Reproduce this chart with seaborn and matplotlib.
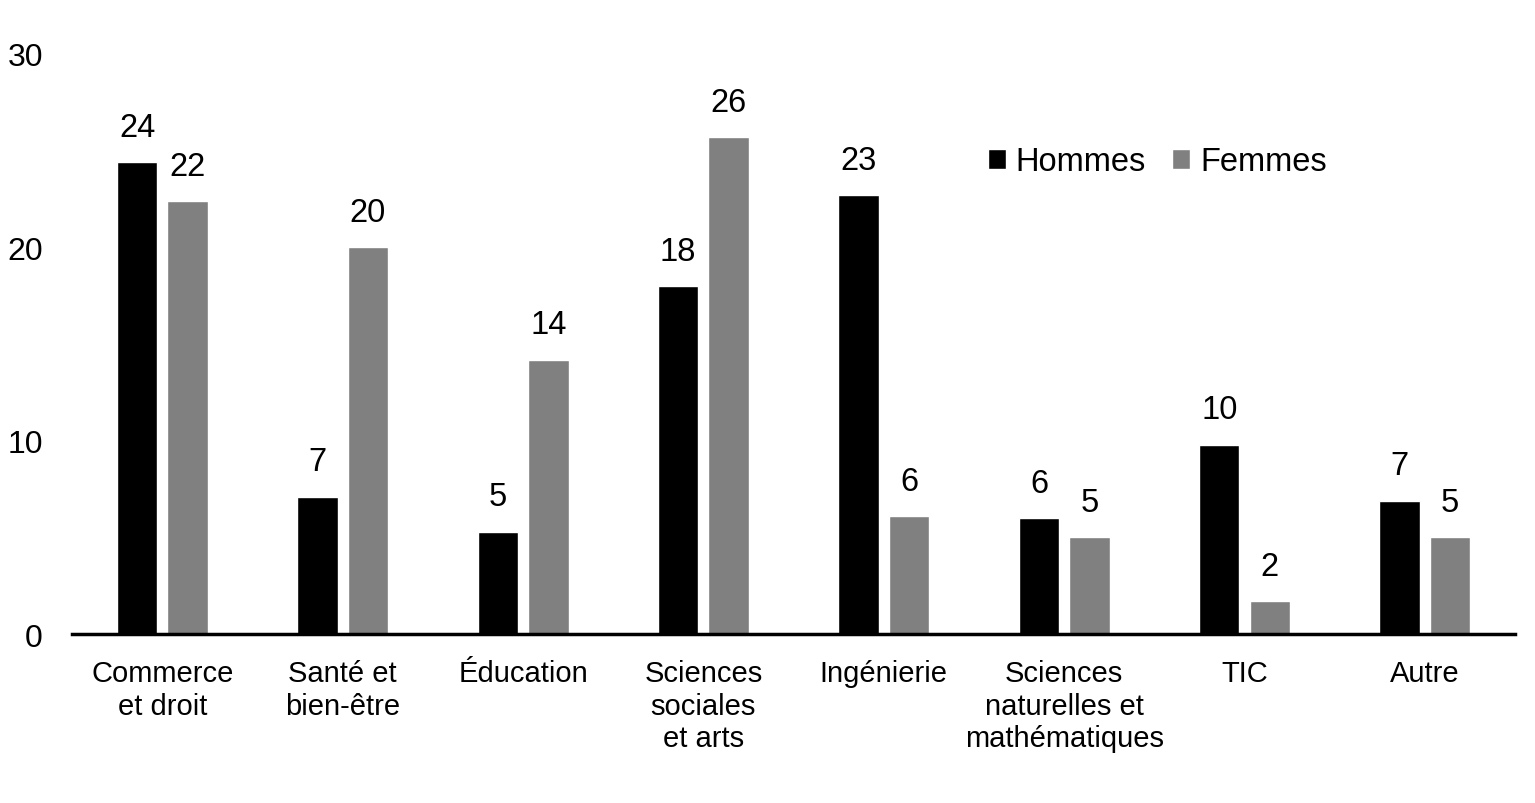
import pandas as pd
import matplotlib.pyplot as plt
import seaborn as sns

# data
categories = ['Commerce\net droit', 'Santé et\nbien-être', 'Éducation',
              'Sciences\nsociales\net arts', 'Ingénierie',
              'Sciences\nnaturelles et\nmathématiques', 'TIC', 'Autre']
hommes = [24.4, 7.1, 5.3, 18.0, 22.7, 6.0, 9.8, 6.9]
femmes = [22.4, 20.0, 14.2, 25.7, 6.1, 5.0, 1.7, 5.0]
series = ['Hommes', 'Femmes']
colors = ['#000000', '#808080']

df = pd.DataFrame({
    'cat': categories * 2,
    'val': hommes + femmes,
    'sexe': [series[0]] * len(categories) + [series[1]] * len(categories),
})

sns.set_style('white')
plt.rcParams['font.family'] = ['Liberation Sans', 'DejaVu Sans']
plt.rcParams['text.color'] = 'black'
plt.rcParams['xtick.color'] = 'black'
plt.rcParams['ytick.color'] = 'black'

fig = plt.figure(figsize=(15.35, 8.04), dpi=100)
ax = fig.add_axes([0.047, 0.21, 0.94, 0.7216])

sns.barplot(data=df, x='cat', y='val', hue='sexe', palette=colors,
            width=0.56, gap=0.2, saturation=1, ax=ax, order=categories,
            hue_order=series)

for cont in ax.containers:
    ax.bar_label(cont, labels=[f'{round(v.get_height()):d}' for v in cont],
                 padding=14, fontsize=23.5, color='black')

ax.set_xlim(-0.5, 7.5)
ax.set_ylim(0, 30)
ax.set_yticks([0, 10, 20, 30])
ax.set_yticklabels(['0', '10', '20', '30'], fontsize=23)
ax.set_xticks(range(len(categories)))
ax.set_xticklabels(categories, fontsize=21, linespacing=1.2)
ax.set_xlabel('')
ax.set_ylabel('')
ax.tick_params(axis='y', length=0, pad=21, labelcolor='black')
ax.tick_params(axis='x', length=0, pad=18, labelcolor='black')
for s in ['top', 'right', 'left']:
    ax.spines[s].set_visible(False)
ax.spines['bottom'].set_linewidth(2.5)
ax.spines['bottom'].set_color('black')

leg = ax.legend(loc='center left', bbox_to_anchor=(0.6235, 0.814), ncol=2,
                frameon=False, borderpad=0, handlelength=0.55, handleheight=0.55,
                handletextpad=0.3, columnspacing=0.8, fontsize=23.5)
for t in leg.get_texts():
    t.set_color('black')

fig.savefig('out.png', dpi=100)
